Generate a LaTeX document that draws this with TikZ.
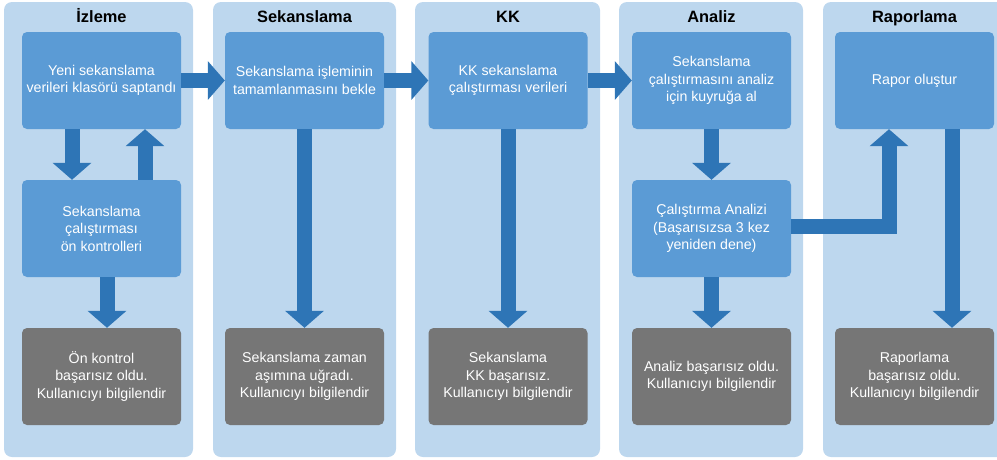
\documentclass[tikz,border=0pt]{standalone}
\usepackage{fontspec}
\setmainfont{Liberation Sans}
\usetikzlibrary{arrows.meta}
\definecolor{panelblue}{RGB}{189,215,238}
\definecolor{boxblue}{RGB}{91,155,213}
\definecolor{arrowblue}{RGB}{46,117,182}
\definecolor{failgray}{RGB}{118,118,118}
\begin{document}
\begin{tikzpicture}[x=1pt,y=-1pt,
	panel/.style={fill=panelblue,rounded corners=8pt},
	lanetitle/.style={font=\bfseries\fontsize{16.4}{19}\selectfont,text height=12pt,text depth=3pt},
	stepbox/.style={fill=boxblue,rounded corners=5pt,minimum width=159pt,minimum height=97pt,
		inner sep=0pt,align=center,text=white,font=\fontsize{14.2}{17.5}\selectfont},
	failbox/.style={stepbox,fill=failgray},
	flow/.style={draw=arrowblue,line width=15pt,-{Triangle[width=38pt,length=17pt]}}]
				\useasboundingbox (0,0) rectangle (997,459);
				% Lanes: left/right edge, centre of the boxes, title
				\foreach \i/\l/\r/\cx/\lbl in {1/4/193/101.5/İzleme, 2/213/396/304.5/Sekanslama,
					3/415/600/508/KK, 4/619/803/711.5/Analiz, 5/823/1010/914.5/Raporlama} {
					\fill[panel] (\l,2) rectangle (\r,457);
					\node[lanetitle] (title\i) at (\cx,17.5) {\lbl};
				}
				% Steps
				\node[stepbox] (izTop) at (101.5,80.5) {Yeni sekanslama\\verileri klasörü saptandı};
				\node[stepbox] (izMid) at (101.5,228.5) {Sekanslama\\çalıştırması\\ön kontrolleri};
				\node[failbox] (izFail) at (101.5,376.5) {Ön kontrol\\başarısız oldu.\\Kullanıcıyı bilgilendir};
				\node[stepbox] (sekTop) at (304.5,80.5) {Sekanslama işleminin\\tamamlanmasını bekle};
				\node[failbox] (sekFail) at (304.5,376.5) {Sekanslama zaman\\aşımına uğradı.\\Kullanıcıyı bilgilendir};
				\node[stepbox] (kkTop) at (508,80.5) {KK sekanslama\\çalıştırması verileri};
				\node[failbox] (kkFail) at (508,376.5) {Sekanslama\\KK başarısız.\\Kullanıcıyı bilgilendir};
				\node[stepbox] (anTop) at (711.5,80.5) {Sekanslama\\çalıştırmasını analiz\\için kuyruğa al};
				\node[stepbox] (anMid) at (711.5,228.5) {Çalıştırma Analizi\\(Başarısızsa 3 kez\\yeniden dene)};
				\node[failbox] (anFail) at (711.5,376.5) {Analiz başarısız oldu.\\Kullanıcıyı bilgilendir};
				\node[stepbox] (rapTop) at (914.5,80.5) {Rapor oluştur};
				\node[failbox] (rapFail) at (914.5,376.5) {Raporlama\\başarısız oldu.\\Kullanıcıyı bilgilendir};
				% Flow between the steps
				\draw[flow] ([xshift=-29.5pt]izTop.south) -- ([xshift=-29.5pt]izMid.north);
				\draw[flow] ([xshift=43.5pt]izMid.north) -- ([xshift=43.5pt]izTop.south);
				\draw[flow] ([xshift=5.5pt]izMid.south) -- ([xshift=5.5pt]izFail.north);
				\draw[flow] (izTop.east) -- (sekTop.west);
				\draw[flow] (sekTop.south) -- (sekFail.north);
				\draw[flow] (sekTop.east) -- (kkTop.west);
				\draw[flow] (kkTop.south) -- (kkFail.north);
				\draw[flow] (kkTop.east) -- (anTop.west);
				\draw[flow] (anTop.south) -- (anMid.north);
				\draw[flow] (anMid.south) -- (anFail.north);
				\draw[flow] ([yshift=2.5pt]anMid.east) -| ([xshift=-25.5pt]rapTop.south);
				\draw[flow] ([xshift=37.5pt]rapTop.south) -- ([xshift=37.5pt]rapFail.north);
			\end{tikzpicture}
\end{document}
